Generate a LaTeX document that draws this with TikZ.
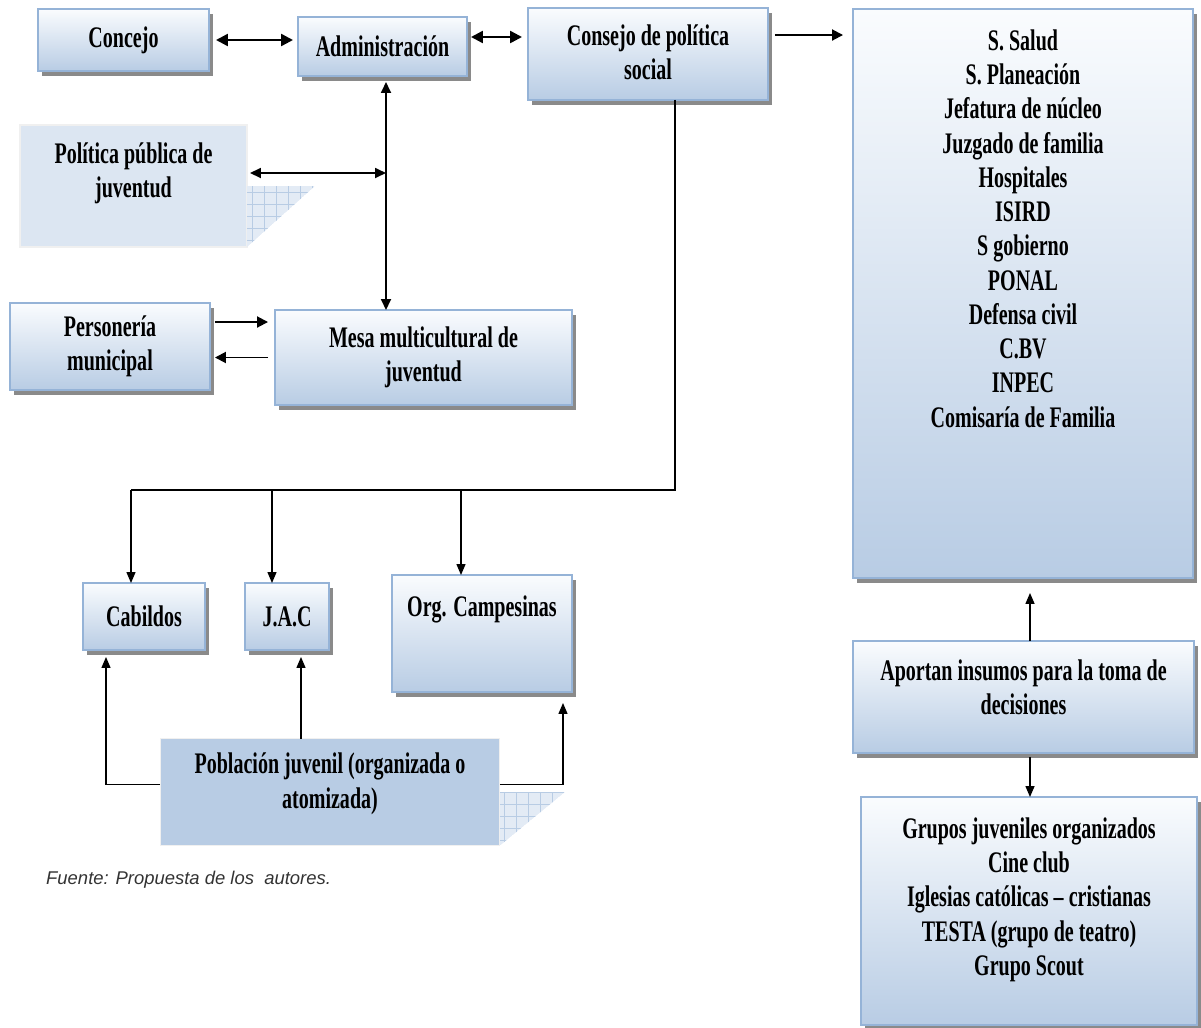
\documentclass[tikz,border=0pt]{standalone}
\usepackage{fontspec}
\setmainfont{Liberation Serif}[FakeStretch=0.67]
\newfontfamily\fuentesans{Liberation Sans}
\usetikzlibrary{positioning}
\usetikzlibrary{calc}
\usetikzlibrary{shadows}
\usetikzlibrary{arrows.meta}

\definecolor{bordeCaja}{HTML}{95B3D7}
\definecolor{cajaArriba}{HTML}{FAFCFE}
\definecolor{cajaAbajo}{HTML}{B8CCE4}
\definecolor{notaClara}{HTML}{DCE6F2}
\definecolor{rejilla}{HTML}{B8CCE4}
\definecolor{sombra}{HTML}{8A8A8A}

% texto de caja alineado arriba: alto, ancho, espacio, texto
\newcommand{\arriba}[4]{\parbox[c][#1][t]{#2}{\centering\vspace*{#3}#4}}

\tikzset{
  caja/.style={draw=bordeCaja, line width=0.9pt, top color=cajaArriba, bottom color=cajaAbajo,
    drop shadow={shadow xshift=0.08cm, shadow yshift=-0.1cm, fill=sombra, opacity=1},
    align=center, inner sep=0pt, outer sep=0pt,
    font=\fontsize{17}{19.5}\selectfont\bfseries},
  nota/.style={draw=black!6, line width=0.6pt, fill=notaClara, align=center, inner sep=0pt, outer sep=0pt,
    font=\fontsize{17}{19.5}\selectfont\bfseries},
  pliegue/.style={fill=notaClara!80!white},
  flechaGruesa/.style={line width=1.4pt, {Triangle[length=0.24cm,width=0.24cm]}-{Triangle[length=0.24cm,width=0.24cm]}},
  flechaDoble/.style={line width=1pt, {Triangle[length=0.22cm,width=0.2cm]}-{Triangle[length=0.22cm,width=0.2cm]}},
  flecha/.style={line width=1.1pt, -{Triangle[length=0.22cm,width=0.22cm]}},
  flechaFina/.style={line width=0.8pt, -{Triangle[length=0.22cm,width=0.18cm]}},
  linea/.style={line width=0.6pt}
}

\begin{document}
\begin{tikzpicture}[x=0.02cm, y=-0.02cm]
  \useasboundingbox (0,0) rectangle (1201,1028);

  % fila de arriba
  \node[caja, minimum width=3.42cm, minimum height=1.24cm] (concejo) at (123.5,40) {Concejo};
  \node[caja, minimum width=3.38cm, minimum height=1.18cm] (admin) at (382.5,46.5) {Administración};
  \node[caja] (consejo) at (648,54) {\arriba{1.84cm}{4.8cm}{0.33cm}{Consejo de política\\social}};
  \node[caja] (entidades) at (1023,293.5) {\arriba{11.38cm}{6.8cm}{0.41cm}{S. Salud\\S. Planeación\\Jefatura de núcleo\\Juzgado de familia\\Hospitales\\ISIRD\\S gobierno\\PONAL\\Defensa civil\\C.BV\\INPEC\\Comisaría de Familia}};

  % izquierda
  \node[nota] (politica) at (133.5,186) {\arriba{2.44cm}{4.54cm}{0.35cm}{Política pública de\\juventud}};
  \node[caja, minimum width=4cm, minimum height=1.74cm] (personeria) at (110,346.5) {Personería\\municipal};
  \node[caja, minimum width=5.94cm, minimum height=1.9cm] (mesa) at (423.5,357.5) {Mesa multicultural de\\juventud};

  % abajo
  \node[caja, minimum width=2.44cm, minimum height=1.34cm] (cabildos) at (144,616.5) {Cabildos};
  \node[caja, minimum width=1.68cm, minimum height=1.34cm] (jac) at (287,616.5) {J.A.C};
  \node[caja] (org) at (482,633.5) {\arriba{2.34cm}{3.6cm}{0.41cm}{Org. Campesinas}};
  \node[nota, fill=cajaAbajo] (poblacion) at (330,792) {\arriba{2.14cm}{6.8cm}{0.29cm}{Población juvenil (organizada o\\atomizada)}};

  % derecha abajo
  \node[caja] (aportan) at (1023.5,697) {\arriba{2.24cm}{6.82cm}{0.37cm}{Aportan insumos para la toma de\\decisiones}};
  \node[caja] (grupos) at (1029,911) {\arriba{4.56cm}{6.72cm}{0.41cm}{Grupos juveniles organizados\\Cine club\\Iglesias católicas -- cristianas\\TESTA (grupo de teatro)\\Grupo Scout}};

  % pliegues
  \foreach \n/\ancho in {politica/68, poblacion/65} {
    \begin{scope}
      \clip (\n.east) -- ++(\ancho,0) -- (\n.south east) -- cycle;
      \fill[pliegue] (\n.east) -- ++(\ancho,0) -- (\n.south east) -- cycle;
      \draw[rejilla, line width=0.3pt, step=0.24cm] (\n.north east) grid ($(\n.south east)+(\ancho,0)$);
    \end{scope}
  }

  \node[anchor=west, font=\fuentesans\itshape\fontsize{10.5}{12}\selectfont, text=black!80] (fuente) at (40,880) {Fuente: Propuesta de los\ \ autores.};

  % conectores de arriba
  \draw[flechaGruesa, shorten <=0.14cm, shorten >=0.1cm] (concejo.east) -- (concejo.east -| admin.west);
  \coordinate (a1) at ([yshift=0.19cm]admin.east);
  \draw[flechaGruesa, shorten <=0.08cm, shorten >=0.12cm] (a1) -- (a1 -| consejo.west);
  \coordinate (c1) at ([yshift=0.38cm]consejo.east);
  \draw[flecha, shorten <=0.14cm, shorten >=0.2cm] (c1) -- (c1 -| entidades.west);

  % eje vertical administracion - mesa
  \coordinate (ejeSup) at ([xshift=0.07cm, yshift=-0.12cm]admin.south);
  \coordinate (ejeInf) at (ejeSup |- mesa.north);
  \draw[flechaDoble] (ejeSup) -- (ejeInf);
  \coordinate (p1) at ([xshift=0.06cm, yshift=0.26cm]politica.east);
  \draw[flechaDoble] (p1) -- (p1 -| ejeSup);

  % personeria - mesa
  \coordinate (r1) at ([xshift=0.1cm, yshift=0.49cm]personeria.east);
  \draw[flecha, shorten >=0.14cm] (r1) -- (r1 -| mesa.west);
  \draw[flecha, shorten <=0.14cm, shorten >=0.1cm] (mesa.west) -- (mesa.west -| personeria.east);

  % ramas del consejo
  \coordinate (bajada) at ([xshift=0.54cm]consejo.south);
  \foreach \dest/\xx in {cabildos/131, jac/272, org/461} {
    \coordinate (b-\dest) at (\xx,490);
    \draw[flechaFina] (b-\dest) -- (b-\dest |- \dest.north);
  }
  \draw[linea] (bajada) |- (b-cabildos);

  % poblacion
  \coordinate (pIzq) at ([yshift=0.15cm]poblacion.west);
  \coordinate (cabAbajo) at ($(cabildos.south)+(-38,7)$);
  \draw[flechaFina] (pIzq) -| (cabAbajo);
  \coordinate (jacAbajo) at ($(jac.south)+(14,7)$);
  \draw[flechaFina] (jacAbajo |- poblacion.north) -- (jacAbajo);
  \coordinate (pDer) at ([yshift=0.15cm]poblacion.east);
  \coordinate (orgAbajo) at ($(org.south)+(81,11)$);
  \draw[flechaFina] (pDer) -| (orgAbajo);

  % aportan
  \coordinate (q1) at ([xshift=0.13cm]aportan.north);
  \draw[flechaFina] (q1) -- ($(q1 |- entidades.south)+(0,15)$);
  \coordinate (q2) at ([xshift=0.13cm, yshift=-0.08cm]aportan.south);
  \draw[flechaFina] (q2) -- (q2 |- grupos.north);
\end{tikzpicture}
\end{document}
